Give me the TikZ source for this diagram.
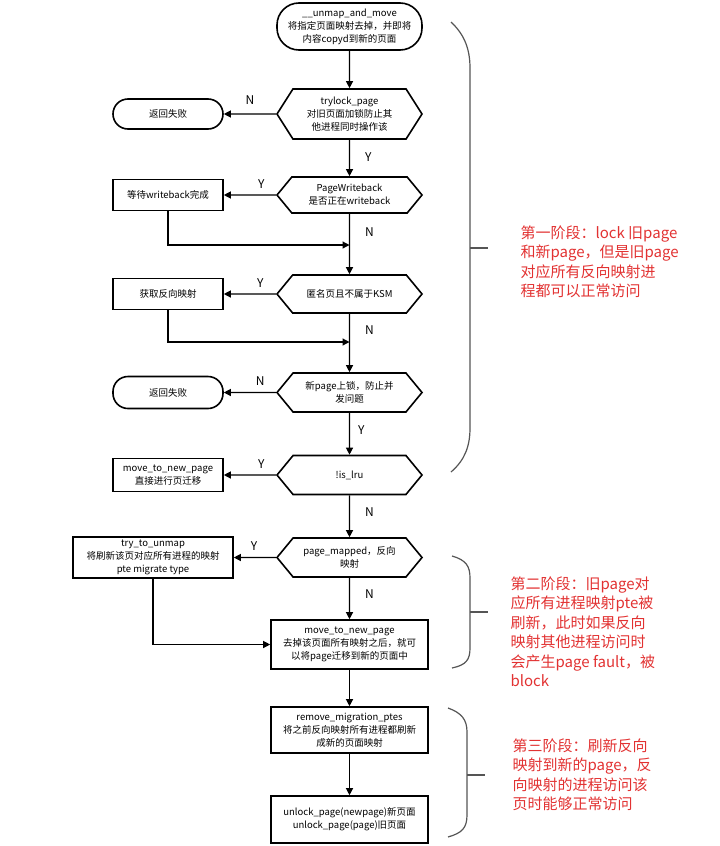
\documentclass[tikz,border=0pt]{standalone}
\usepackage{fontspec}
\setmainfont{Noto Sans CJK SC}
\usetikzlibrary{shapes.misc,shapes.symbols,arrows.meta}
\definecolor{stagered}{HTML}{E23232}
\definecolor{bracegray}{HTML}{555555}
\begin{document}
\begin{tikzpicture}[x=1pt,y=-1pt,
    box/.style={draw, line width=1.6pt, align=center, inner sep=1pt,
        font=\fontsize{9.5}{13}\selectfont},
    term/.style={box, rectangle, rounded corners=15pt},
    proc/.style={box, rectangle},
    cond/.style={box, signal, signal to=west and east, signal pointer angle=101,
        minimum width=145, minimum height=39},
    lbl/.style={font=\fontsize{12}{14}\selectfont, inner sep=2pt},
    stage/.style={text=stagered, align=left, anchor=north west, inner sep=0pt,
        font=\fontsize{15}{19.5}\selectfont},
    >={Triangle[length=7pt,width=7pt]}, line width=1.2pt]
\useasboundingbox (0,0) rectangle (720,846);
                \node [term, rounded corners=22pt, minimum width=145, minimum height=47] (start) at (349.5,26.5) {\_\_unmap\_and\_move\\将指定页面映射去掉，并即将\\内容copyd到新的页面};
                \node [cond, minimum height=50, signal pointer angle=115] (h1) at (349.5,114) {trylock\_page\\对旧页面加锁防止其\\他进程同时操作该};
                \node [cond, minimum height=36] (h2) at (349.5,195) {PageWriteback\\是否正在writeback};
                \node [cond, minimum height=38] (h3) at (349.5,294) {匿名页且不属于KSM};
                \node [cond] (h4) at (349.5,392.5) {新page上锁，防止并\\发问题};
                \node [cond] (h5) at (349.5,475) {!is\_lru};
                \node [cond] (h6) at (349.5,557.5) {page\_mapped，反向\\映射};
                \node [term, minimum width=110, minimum height=30] (t1) at (168,114) {返回失败};
                \node [proc, minimum width=110, minimum height=31] (r1) at (168,195) {等待writeback完成};
                \node [proc, minimum width=110, minimum height=31] (r2) at (168,294) {获取反向映射};
                \node [term, minimum width=110, minimum height=32] (t2) at (168,392.5) {返回失败};
                \node [proc, minimum width=110, minimum height=33] (r3) at (168,475) {move\_to\_new\_page\\直接进行页迁移};
                \node [proc, minimum width=160, minimum height=41] (r4) at (153,557.5) {try\_to\_unmap\\将刷新该页对应所有进程的映射\\pte migrate type};
                \node [proc, minimum width=157, minimum height=49] (r5) at (349.5,644.5) {move\_to\_new\_page\\去掉该页面所有映射之后，就可\\以将page迁移到新的页面中};
                \node [proc, minimum width=157, minimum height=46] (r6) at (349.5,730) {remove\_migration\_ptes\\将之前反向映射所有进程都刷新\\成新的页面映射};
                \node [proc, minimum width=157, minimum height=47] (r7) at (349.5,819.5) {unlock\_page(newpage)新页面\\unlock\_page(page)旧页面};
                \coordinate (j1) at (349.5,245);
                \coordinate (j2) at (349.5,342);
                \draw [->] (start) -- (h1);
                \draw [->] (h1) -- node [lbl, above=7pt, pos=0.5] {N} (t1);
                \draw [->] (h1) -- node [lbl, right=13pt, pos=0.47] {Y} (h2);
                \draw [->] (h2) -- node [lbl, above=4pt, pos=0.28] {Y} (r1);
                \draw [->] (r1) |- (j1);
                \draw [->] (h2) -- node [lbl, right=13pt, pos=0.3] {N} (h3);
                \draw [->] (h3) -- node [lbl, above=4pt, pos=0.3] {Y} (r2);
                \draw [->] (r2) |- (j2);
                \draw [->] (h3) -- node [lbl, right=13pt, pos=0.28] {N} (h4);
                \draw [->] (h4) -- node [lbl, above=4pt, pos=0.3] {N} (t2);
                \draw [->] (h4) -- node [lbl, right=6pt, pos=0.42] {Y} (h5);
                \draw [->] (h5) -- node [lbl, above=4pt, pos=0.28] {Y} (r3);
                \draw [->] (h5) -- node [lbl, right=13pt, pos=0.4] {N} (h6);
                \draw [->] (h6) -- node [lbl, above=4pt, pos=0.52] {Y} (r4);
                \draw [->] (h6) -- node [lbl, right=13pt, pos=0.4] {N} (r5);
                \draw [->] (r4) |- (r5);
                \draw [->] (r5) -- (r6);
                \draw [->] (r6) -- (r7);
                % braces for the three stages
                \draw [bracegray] (451,22) .. controls (465,35) and (470,50) .. (470,68) -- (470,428) .. controls (470,446) and (465,460) .. (451,472);
                \draw [bracegray] (470,248) -- (488,248);
                \draw [bracegray] (452,556) .. controls (466,560) and (470,566) .. (470,578) -- (470,648) .. controls (470,660) and (466,665) .. (452,668);
                \draw [bracegray] (470,612) -- (488,612);
                \draw [bracegray] (448,708) .. controls (462,713) and (467,720) .. (467,732) -- (467,815) .. controls (467,828) and (462,833) .. (448,837);
                \draw [bracegray] (467,775) -- (485,775);
                \node [stage] (s1) at (520,225) {第一阶段：lock 旧page\\和新page，但是旧page\\对应所有反向映射进\\程都可以正常访问};
                \node [stage] (s2) at (510,576) {第二阶段：旧page对\\应所有进程映射pte被\\刷新，此时如果反向\\映射其他进程访问时\\会产生page fault，被\\block};
                \node [stage] (s3) at (512,738) {第三阶段：刷新反向\\映射到新的page，反\\向映射的进程访问该\\页时能够正常访问};
\end{tikzpicture}
\end{document}
